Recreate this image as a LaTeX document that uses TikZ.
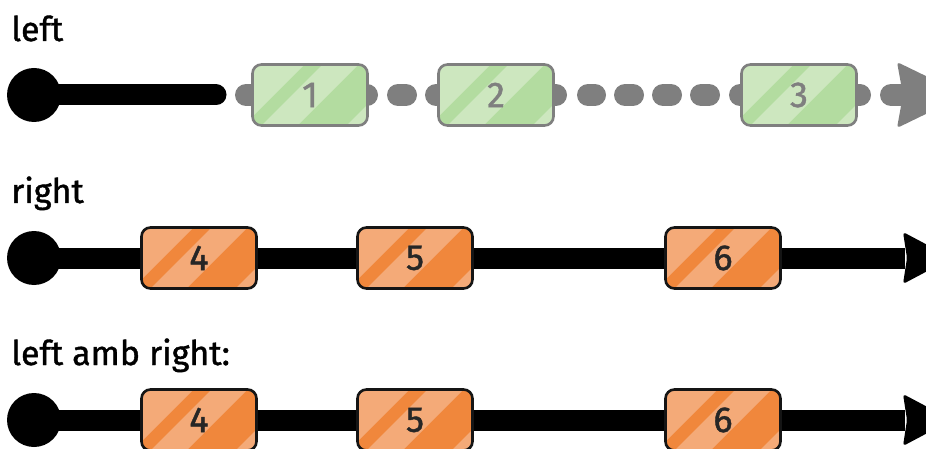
\documentclass[tikz,border=0pt]{standalone}
\usepackage{fontspec}
\setmainfont{Fira Sans}
\newfontfamily\handfont[FakeBold=1.2]{Fira Sans}
\usetikzlibrary{backgrounds}
\definecolor{gfill}{HTML}{B3DCA0}
\definecolor{glight}{HTML}{CDE7BF}
\definecolor{ggray}{HTML}{7F7F7F}
\definecolor{ofill}{HTML}{F0873C}
\definecolor{olight}{HTML}{F4AA78}
\definecolor{oborder}{HTML}{151515}
\definecolor{otext}{HTML}{262626}
% #1 name, #2 position, #3 kind (g or o), #4 text
\newcommand\marble[4]{%
  \begin{scope}[shift={#2}]
    \fill[#3fill, rounded corners=9pt] (-57.5,-30.5) rectangle (57.5,30.5);
    \begin{scope}
      \clip[rounded corners=9pt] (-57.5,-30.5) rectangle (57.5,30.5);
      \begin{scope}[shift={(-57.5,-30.5)}]
        \fill[#3light] (-2,0) -- (52,0) -- (-18,70) -- (-72,70) -- cycle;
        \fill[#3light] (70,0) -- (106,0) -- (36,70) -- (0,70) -- cycle;
        \fill[#3light] (155,0) -- (172,0) -- (102,70) -- (85,70) -- cycle;
      \end{scope}
    \end{scope}
  \end{scope}
  \node[#3box] (#1) at #2 {#4};}
\begin{document}
\begin{tikzpicture}[x=1pt,y=-1pt,
  marble/.style={draw, line width=2.6pt, rounded corners=9pt, minimum width=115pt,
    minimum height=61pt, inner sep=0pt, font=\handfont\fontsize{36}{36}\selectfont},
  gbox/.style={marble, draw=ggray, text=ggray},
  obox/.style={marble, draw=oborder, text=otext},
  startdot/.style={circle, fill=black, minimum size=54pt, inner sep=0pt},
  lab/.style={anchor=base west, inner sep=0pt, font=\handfont\fontsize{34}{34}\selectfont},
  blackline/.style={line width=21pt, draw=black},
  grayline/.style={line width=22pt, draw=ggray, line cap=round}]
\useasboundingbox (0,0) rectangle (926,449);

% labels
\node[lab] (l1) at (11,41) {left};
\node[lab] (l2) at (11,203) {right};
\node[lab] (l3) at (11,365) {left amb right:};

% row 1
\node[startdot] (s1) at (34,95) {};
\coordinate (k1) at (216,95);
\coordinate (g0) at (246,95);
\coordinate (e1) at (905,95);
\marble{b1}{(310,95)}{g}{1}
\marble{b2}{(496,95)}{g}{2}
\marble{b3}{(799,95)}{g}{3}
\begin{pgfonlayer}{background}
  \draw[blackline, line cap=round] (s1.center) -- (k1);
  \draw[grayline, dash pattern=on 121pt off 31pt on 8pt off 30pt on 120pt off 32pt on 7pt off 30pt on 8pt off 30pt on 8pt off 30pt on 8pt off 31pt on 120pt off 31pt on 30pt] (g0) -- (e1);
\end{pgfonlayer}
\fill[ggray, rounded corners=3pt] ([shift={(-8,-33)}]e1) -- ++(68,33) -- ++(-68,33) -- ++(6,-33) -- cycle;

% row 2
\node[startdot] (s2) at (34,258) {};
\coordinate (e2) at (905,258);
\marble{b4}{(199,258)}{o}{4}
\marble{b5}{(415,258)}{o}{5}
\marble{b6}{(723,258)}{o}{6}
\begin{pgfonlayer}{background}
  \draw[blackline] (s2.center) -- (e2);
\end{pgfonlayer}
\fill[black, rounded corners=3pt] ([shift={(-2,-26)}]e2) -- ++(49,26) -- ++(-49,26) -- ++(4,-26) -- cycle;

% row 3
\node[startdot] (s3) at (34,420) {};
\coordinate (e3) at (905,420);
\marble{c4}{(199,420)}{o}{4}
\marble{c5}{(415,420)}{o}{5}
\marble{c6}{(723,420)}{o}{6}
\begin{pgfonlayer}{background}
  \draw[blackline] (s3.center) -- (e3);
\end{pgfonlayer}
\fill[black, rounded corners=3pt] ([shift={(-2,-26)}]e3) -- ++(49,26) -- ++(-49,26) -- ++(4,-26) -- cycle;
\end{tikzpicture}
\end{document}
